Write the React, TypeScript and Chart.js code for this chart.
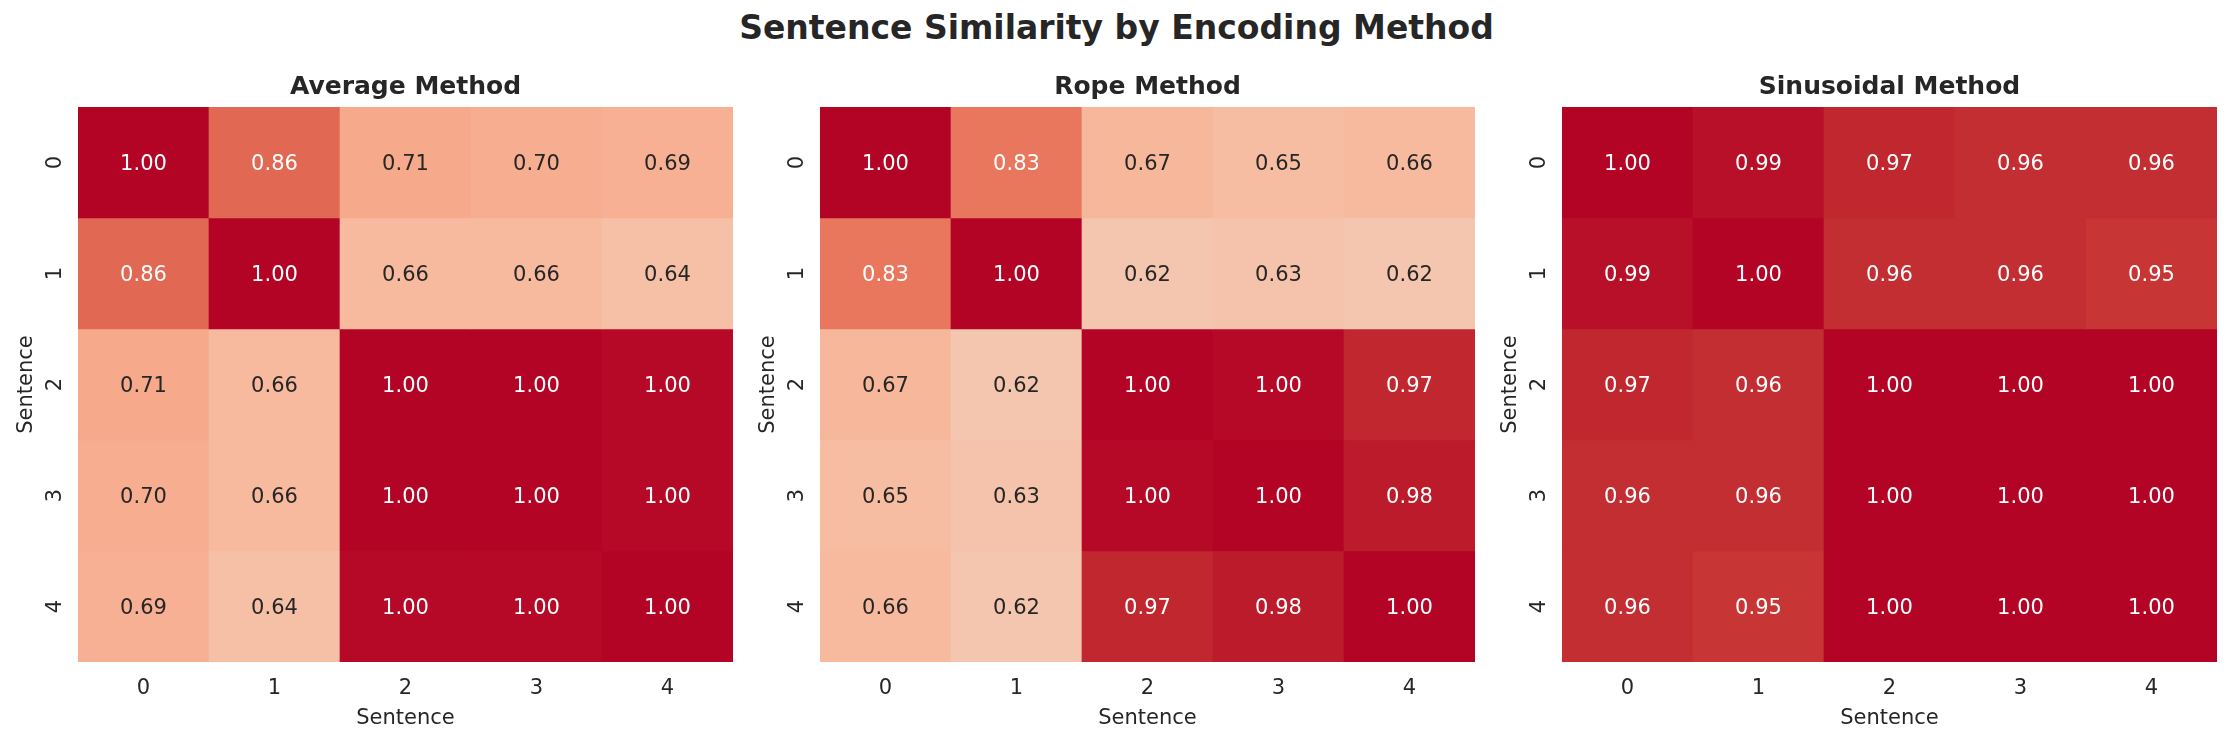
import { useEffect, useRef } from "react";
import { Chart, registerables } from "chart.js";
Chart.register(...registerables);

const FONT = "'DejaVu Sans', sans-serif";
const TEXT_DARK = "#262626";

const sentences = ["0", "1", "2", "3", "4"];
const panelTitles = ["Average Method", "Rope Method", "Sinusoidal Method"];

const averageValues = [
  [1.0, 0.86, 0.71, 0.7, 0.69],
  [0.86, 1.0, 0.66, 0.66, 0.64],
  [0.71, 0.66, 1.0, 1.0, 0.996],
  [0.7, 0.66, 1.0, 1.0, 0.996],
  [0.69, 0.64, 0.996, 0.996, 1.0],
];

const ropeValues = [
  [1.0, 0.83, 0.67, 0.65, 0.66],
  [0.83, 1.0, 0.62, 0.63, 0.62],
  [0.67, 0.62, 1.0, 0.996, 0.97],
  [0.65, 0.63, 0.996, 1.0, 0.98],
  [0.66, 0.62, 0.97, 0.98, 1.0],
];

const sinusoidalValues = [
  [1.0, 0.99, 0.97, 0.96, 0.96],
  [0.99, 1.0, 0.96, 0.96, 0.95],
  [0.97, 0.96, 1.0, 1.0, 1.0],
  [0.96, 0.96, 1.0, 1.0, 1.0],
  [0.96, 0.95, 1.0, 1.0, 1.0],
];

// matplotlib "coolwarm" (Moreland), 33 stops from 0 to 1
const coolwarm = [
  [59, 76, 192], [68, 90, 204], [77, 104, 215], [87, 117, 225],
  [98, 130, 234], [108, 142, 241], [119, 154, 247], [130, 165, 251],
  [141, 176, 254], [152, 185, 255], [163, 194, 255], [174, 201, 253],
  [184, 208, 249], [194, 213, 244], [204, 217, 238], [213, 219, 230],
  [221, 221, 221], [229, 216, 209], [236, 211, 197], [241, 204, 185],
  [245, 196, 173], [247, 187, 160], [247, 177, 148], [247, 166, 135],
  [244, 154, 123], [241, 141, 111], [236, 127, 99], [229, 112, 88],
  [222, 96, 77], [213, 80, 66], [203, 62, 56], [192, 40, 47],
  [180, 4, 38],
];

function cmapRgb(v: number) {
  const t = Math.min(1, Math.max(0, v)) * (coolwarm.length - 1);
  const i = Math.min(coolwarm.length - 2, Math.floor(t));
  const f = t - i;
  const a = coolwarm[i];
  const b = coolwarm[i + 1];
  return [0, 1, 2].map((k) => Math.round(a[k] + (b[k] - a[k]) * f));
}

function cmap(v: number) {
  const [r, g, b] = cmapRgb(v);
  return `rgb(${r},${g},${b})`;
}

function textColor(v: number) {
  const lin = cmapRgb(v).map((c) => {
    const s = c / 255;
    return s <= 0.03928 ? s / 12.92 : Math.pow((s + 0.055) / 1.055, 2.4);
  });
  const lum = 0.2126 * lin[0] + 0.7152 * lin[1] + 0.0722 * lin[2];
  return lum > 0.408 ? TEXT_DARK : "#ffffff";
}

// value labels inside the cells
const cellText = {
  id: "cellText",
  afterDatasetsDraw(chart: any) {
    const ctx = chart.ctx;
    ctx.save();
    ctx.font = `21px ${FONT}`;
    ctx.textAlign = "center";
    ctx.textBaseline = "middle";
    chart.data.datasets.forEach((ds: any, r: number) => {
      const meta = chart.getDatasetMeta(r);
      meta.data.forEach((bar: any, c: number) => {
        const v = ds.values[c];
        const p = bar.getCenterPoint();
        ctx.fillStyle = textColor(v);
        ctx.fillText((Math.round(v * 100) / 100).toFixed(2), p.x, p.y + 2);
      });
    });
    ctx.restore();
  },
};

// subplot title centred over the plot area (like matplotlib's ax.set_title)
const panelTitle = {
  id: "panelTitle",
  afterDraw(chart: any, _args: any, opts: any) {
    const { left, right } = chart.chartArea;
    const ctx = chart.ctx;
    ctx.save();
    ctx.font = `bold 25px ${FONT}`;
    ctx.fillStyle = TEXT_DARK;
    ctx.textAlign = "center";
    ctx.textBaseline = "middle";
    ctx.fillText(opts.text, (left + right) / 2, 27);
    ctx.restore();
  },
};

const Heatmap = ({ title, values, left }: { title: string; values: number[][]; left: number }) => {
  const canvasRef = useRef<HTMLCanvasElement>(null);

  useEffect(() => {
    const chart = new Chart(canvasRef.current!, {
      type: "bar",
      data: {
        labels: sentences,
        datasets: values.map((row, r) => ({
          data: row.map(() => [r - 0.5, r + 0.5]),
          values: row,
          backgroundColor: row.map((v) => cmap(v)),
          borderWidth: 0,
          grouped: false,
          categoryPercentage: 1,
          barPercentage: 1,
        })) as any,
      },
      options: {
        responsive: false,
        animation: false,
        layout: { padding: { left: 0, right: 20, top: 47, bottom: 0 } },
        plugins: {
          legend: { display: false },
          tooltip: { enabled: false },
          title: { display: false },
          panelTitle: { text: title },
        },
        scales: {
          x: {
            type: "category",
            offset: true,
            grid: { display: false, drawTicks: false },
            border: { display: false },
            ticks: {
              color: TEXT_DARK,
              font: { family: FONT, size: 21 },
              padding: 14,
              maxRotation: 0,
            },
            title: {
              display: true,
              text: "Sentence",
              color: TEXT_DARK,
              font: { family: FONT, size: 21 },
              padding: { top: 0, bottom: 9 },
            },
            afterFit: (scale: any) => {
              scale.height = 78;
            },
          },
          y: {
            type: "linear",
            reverse: true,
            min: -0.5,
            max: sentences.length - 0.5,
            grid: { display: false, drawTicks: false },
            border: { display: false },
            afterBuildTicks: (scale: any) => {
              scale.ticks = sentences.map((_, i) => ({ value: i }));
            },
            ticks: {
              color: TEXT_DARK,
              font: { family: FONT, size: 21 },
              padding: 16,
              minRotation: 90,
              maxRotation: 90,
              crossAlign: "center",
              callback: (v: any) => sentences[v],
            },
            title: {
              display: true,
              text: "Sentence",
              color: TEXT_DARK,
              font: { family: FONT, size: 21 },
              padding: { top: 14, bottom: 0 },
            },
            afterFit: (scale: any) => {
              scale.width = 78;
            },
          },
        },
      } as any,
      plugins: [cellText, panelTitle],
    });
    return () => chart.destroy();
  }, [title, values]);

  return (
    <canvas
      ref={canvasRef}
      width={753}
      height={680}
      style={{ position: "absolute", left, top: 60, width: 753, height: 680 }}
    />
  );
};

export default function App() {
  const panels = [averageValues, ropeValues, sinusoidalValues];
  const lefts = [0, 742, 1484];
  return (
    <div
      style={{
        position: "absolute",
        left: 0,
        top: 0,
        width: 2233,
        height: 740,
        background: "#ffffff",
        overflow: "hidden",
      }}
    >
      <div
        style={{
          position: "absolute",
          left: 0,
          top: 8,
          width: 2233,
          textAlign: "center",
          fontFamily: FONT,
          fontWeight: "bold",
          fontSize: 33,
          lineHeight: "40px",
          color: TEXT_DARK,
        }}
      >
        Sentence Similarity by Encoding Method
      </div>
      {panels.map((vals, i) => (
        <Heatmap key={i} title={panelTitles[i]} values={vals} left={lefts[i]} />
      ))}
    </div>
  );
}
